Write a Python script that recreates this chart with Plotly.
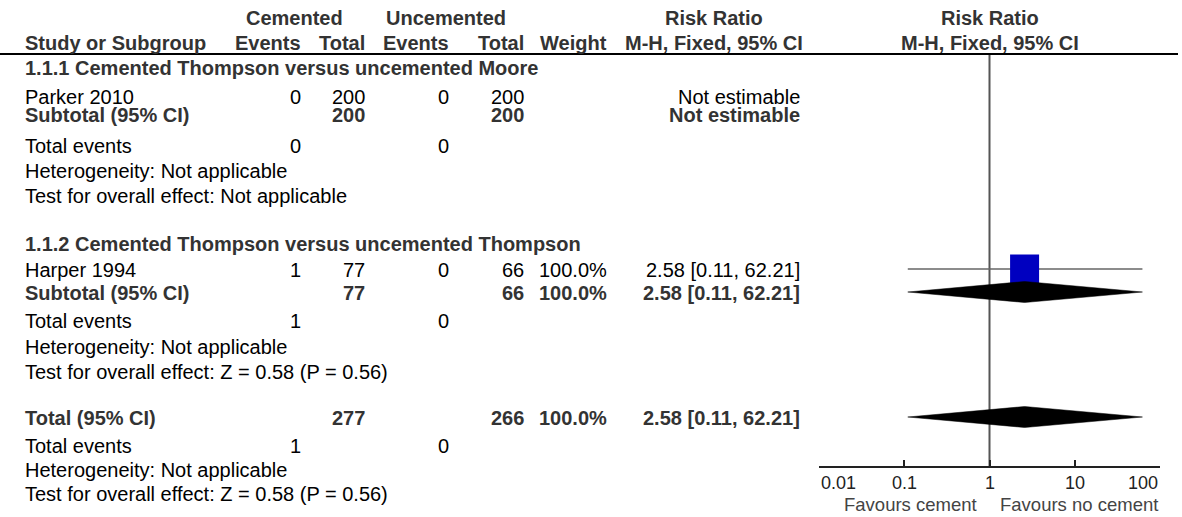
import math
import plotly.graph_objects as go

W, H = 1182, 517

# ---------------- data ----------------
group_titles = ["1.1.1 Cemented Thompson versus uncemented Moore",
                "1.1.2 Cemented Thompson versus uncemented Thompson"]
study_names = ["Parker 2010", "Harper 1994"]
cem_events = [0, 1]
cem_total = [200, 77]
unc_events = [0, 0]
unc_total = [200, 66]
study_weight = [None, 100.0]
study_rr = [None, 2.58]
study_lo = [None, 0.11]
study_hi = [None, 62.21]

sub_cem_total = [200, 77]
sub_unc_total = [200, 66]
sub_weight = [None, 100.0]
sub_rr = [None, 2.58]
sub_lo = [None, 0.11]
sub_hi = [None, 62.21]
sub_cem_events = [0, 1]
sub_unc_events = [0, 0]
sub_heterogeneity = ["Not applicable", "Not applicable"]
sub_overall = ["Not applicable", "Z = 0.58 (P = 0.56)"]

total_cem = 277
total_unc = 266
total_weight = 100.0
total_rr = 2.58
total_lo = 0.11
total_hi = 62.21
total_cem_events = 1
total_unc_events = 0
total_heterogeneity = "Not applicable"
total_overall = "Z = 0.58 (P = 0.56)"

tick_values = [0.01, 0.1, 1, 10, 100]
tick_labels = ["0.01", "0.1", "1", "10", "100"]
favours_left = "Favours cement"
favours_right = "Favours no cement"

# ---------------- layout (pixels) ----------------
FONT = "Arial, Liberation Sans, sans-serif"
FS = 20
BOLD_C = "#333333"
REG_C = "#000000"

X_LEFT = 23
X_CE, X_CT, X_UE, X_UT, X_W, X_CI = 303, 367, 451, 526, 609, 802
X_CEM_HDR, X_UNC_HDR = 294, 446
X_CI_HDR = 714
PLOT_X0, PLOT_X1 = 819, 1160
AXIS_Y = 467
LINE_Y = 54

Y_HDR1, Y_HDR2 = 18, 43
group_rows = [
    dict(title=68, study=97, sub=115, te=146, het=171, test=196),
    dict(title=244, study=270, sub=293, te=321, het=347, test=372),
]
Y_TOTAL, Y_TE, Y_HET, Y_TEST = 418, 446, 470, 494
Y_TICKLAB, Y_FAVOURS = 483, 504

annotations = []


def txt(x, y, s, anchor="left", bold=False, size=FS, color=None):
    annotations.append(dict(
        x=x / W, y=1 - y / H, xref="paper", yref="paper",
        text=("<b>%s</b>" % s) if bold else s,
        showarrow=False, xanchor=anchor, yanchor="middle",
        font=dict(family=FONT, size=size,
                  color=color or (BOLD_C if bold else REG_C))))


def fmt_ci(rr, lo, hi):
    if rr is None:
        return "Not estimable"
    return "%.2f [%.2f, %.2f]" % (rr, lo, hi)


# header
txt(X_CEM_HDR, Y_HDR1, "Cemented", "center", True)
txt(X_UNC_HDR, Y_HDR1, "Uncemented", "center", True)
txt(X_CI_HDR, Y_HDR1, "Risk Ratio", "center", True)
txt((PLOT_X0 + PLOT_X1) / 2, Y_HDR1, "Risk Ratio", "center", True)
txt(X_LEFT, Y_HDR2, "Study or Subgroup", "left", True)
txt(X_CE, Y_HDR2, "Events", "right", True)
txt(X_CT, Y_HDR2, "Total", "right", True)
txt(X_UE, Y_HDR2, "Events", "right", True)
txt(X_UT, Y_HDR2, "Total", "right", True)
txt(X_W, Y_HDR2, "Weight", "right", True)
txt(X_CI_HDR, Y_HDR2, "M-H, Fixed, 95% CI", "center", True)
txt((PLOT_X0 + PLOT_X1) / 2, Y_HDR2, "M-H, Fixed, 95% CI", "center", True)

for g in range(2):
    r = group_rows[g]
    txt(X_LEFT, r["title"], group_titles[g], "left", True)
    txt(X_LEFT, r["study"], study_names[g])
    txt(X_CE, r["study"], str(cem_events[g]), "right")
    txt(X_CT, r["study"], str(cem_total[g]), "right")
    txt(X_UE, r["study"], str(unc_events[g]), "right")
    txt(X_UT, r["study"], str(unc_total[g]), "right")
    if study_weight[g] is not None:
        txt(X_W, r["study"], "%.1f%%" % study_weight[g], "right")
    txt(X_CI, r["study"], fmt_ci(study_rr[g], study_lo[g], study_hi[g]), "right")

    txt(X_LEFT, r["sub"], "Subtotal (95% CI)", "left", True)
    txt(X_CT, r["sub"], str(sub_cem_total[g]), "right", True)
    txt(X_UT, r["sub"], str(sub_unc_total[g]), "right", True)
    if sub_weight[g] is not None:
        txt(X_W, r["sub"], "%.1f%%" % sub_weight[g], "right", True)
    txt(X_CI, r["sub"], fmt_ci(sub_rr[g], sub_lo[g], sub_hi[g]), "right", True)

    txt(X_LEFT, r["te"], "Total events")
    txt(X_CE, r["te"], str(sub_cem_events[g]), "right")
    txt(X_UE, r["te"], str(sub_unc_events[g]), "right")
    txt(X_LEFT, r["het"], "Heterogeneity: " + sub_heterogeneity[g])
    txt(X_LEFT, r["test"], "Test for overall effect: " + sub_overall[g])

txt(X_LEFT, Y_TOTAL, "Total (95% CI)", "left", True)
txt(X_CT, Y_TOTAL, str(total_cem), "right", True)
txt(X_UT, Y_TOTAL, str(total_unc), "right", True)
txt(X_W, Y_TOTAL, "%.1f%%" % total_weight, "right", True)
txt(X_CI, Y_TOTAL, fmt_ci(total_rr, total_lo, total_hi), "right", True)
txt(X_LEFT, Y_TE, "Total events")
txt(X_CE, Y_TE, str(total_cem_events), "right")
txt(X_UE, Y_TE, str(total_unc_events), "right")
txt(X_LEFT, Y_HET, "Heterogeneity: " + total_heterogeneity)
txt(X_LEFT, Y_TEST, "Test for overall effect: " + total_overall)

# tick labels and favours labels on the log axis
for v, lab in zip(tick_values, tick_labels):
    anchor = "left" if v == tick_values[0] else ("right" if v == tick_values[-1] else "center")
    annotations.append(dict(x=math.log10(v), y=1 - Y_TICKLAB / H, xref="x", yref="paper",
                            text=lab, showarrow=False, xanchor=anchor, yanchor="middle",
                            font=dict(family=FONT, size=18, color="#222222")))
annotations.append(dict(x=0, y=1 - Y_FAVOURS / H, xref="x", yref="paper", text=favours_left,
                        showarrow=False, xanchor="right", xshift=-11, yanchor="middle",
                        font=dict(family=FONT, size=18.5, color="#444444")))
annotations.append(dict(x=0, y=1 - Y_FAVOURS / H, xref="x", yref="paper", text=favours_right,
                        showarrow=False, xanchor="left", xshift=8, yanchor="middle",
                        font=dict(family=FONT, size=18.5, color="#444444")))

fig = go.Figure()

# null line
fig.add_trace(go.Scatter(x=[1, 1], y=[LINE_Y, AXIS_Y], mode="lines",
                         line=dict(color="#555555", width=2), hoverinfo="skip"))

# study CI lines and squares
for g in range(2):
    if study_rr[g] is None:
        continue
    y = group_rows[g]["study"] - 1
    fig.add_trace(go.Scatter(x=[study_lo[g], study_hi[g]], y=[y, y], mode="lines",
                             line=dict(color="#666666", width=1.5), hoverinfo="skip"))
    fig.add_trace(go.Scatter(x=[study_rr[g]], y=[y], mode="markers",
                             marker=dict(symbol="square", size=29, color="#0000c0",
                                         line=dict(width=0)), hoverinfo="skip"))

# diamonds
DH = 10.5


def diamond(rr, lo, hi, y):
    fig.add_trace(go.Scatter(x=[lo, rr, hi, rr, lo], y=[y, y - DH, y, y + DH, y],
                             mode="lines", fill="toself", fillcolor="#000000",
                             line=dict(color="#000000", width=0.5), hoverinfo="skip"))


for g in range(2):
    if sub_rr[g] is not None:
        diamond(sub_rr[g], sub_lo[g], sub_hi[g], group_rows[g]["sub"] - 1)
diamond(total_rr, total_lo, total_hi, Y_TOTAL - 1)

fig.update_layout(
    width=W, height=H, margin=dict(l=0, r=0, t=0, b=0),
    paper_bgcolor="white", plot_bgcolor="white", showlegend=False,
    annotations=annotations,
    xaxis=dict(type="log", range=[math.log10(tick_values[0]), math.log10(tick_values[-1])],
               domain=[PLOT_X0 / W, PLOT_X1 / W], anchor="free", position=(H - AXIS_Y) / H,
               showgrid=False, zeroline=False, showline=True, linecolor="#222222", linewidth=2,
               ticks="inside", ticklen=6, tickwidth=2, tickcolor="#222222",
               tickvals=tick_values, showticklabels=False, fixedrange=True),
    yaxis=dict(range=[H, 0], domain=[0, 1], visible=False, fixedrange=True),
    shapes=[dict(type="line", xref="paper", yref="y", x0=0, x1=1178 / W,
                 y0=LINE_Y, y1=LINE_Y, line=dict(color="#000000", width=2))],
)

fig.write_html("out.html", config={"displayModeBar": False},
               post_script="document.body.style.margin='0px';")
